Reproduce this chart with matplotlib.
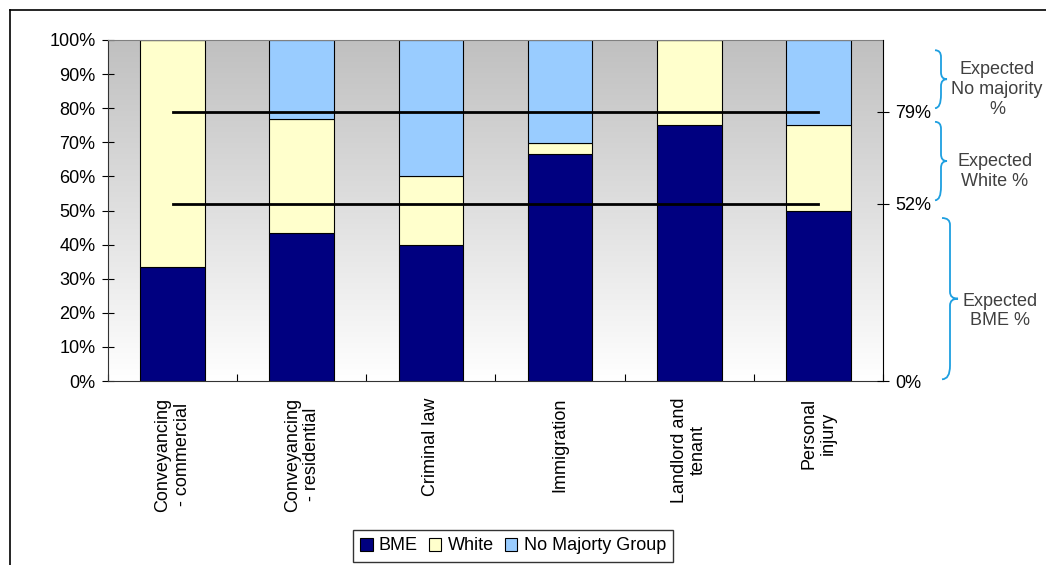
import matplotlib.pyplot as plt
import matplotlib.patches as mpatches
from matplotlib.path import Path
from matplotlib.colors import LinearSegmentedColormap
import matplotlib.transforms as mtrans
import numpy as np

plt.rcParams['font.family'] = ['Liberation Sans', 'DejaVu Sans']

categories = ["Conveyancing\n- commercial", "Conveyancing\n- residential", "Criminal law",
              "Immigration", "Landlord and\ntenant", "Personal\ninjury"]
bme = [33.3, 43.5, 40.0, 66.7, 75.0, 50.0]
white = [66.7, 33.2, 20.0, 3.0, 25.0, 25.0]
no_majority = [0.0, 23.3, 40.0, 30.3, 0.0, 25.0]
expected_lines = [52, 79]
right_ticks = [0, 52, 79]
brace_spans = [(97, 80), (76, 53), (47.8, 0.5)]
brace_labels = ["Expected\nNo majority\n%", "Expected\nWhite %", "Expected\nBME %"]
label_y = [85.5, 61.5, 20.5]

fs = 13

fig = plt.figure(figsize=(10.46, 5.65), dpi=100)
ax = fig.add_axes([108/1046, 1 - 381/565, 775/1046, 341/565])

# grey-to-white gradient background
cm = LinearSegmentedColormap.from_list('bg', ['#FFFFFF', '#C0C0C0'])
grad = np.linspace(1, 0, 256).reshape(-1, 1)
ax.imshow(grad, extent=[-0.5, 5.5, 0, 100], aspect='auto', cmap=cm,
          vmin=0, vmax=1, zorder=0)

x = np.arange(len(categories))
w = 0.5
bme_a = np.array(bme)
white_a = np.array(white)
nm_a = np.array(no_majority)
ax.bar(x, bme_a, w, color='#000080', edgecolor='black', lw=0.8, label='BME', zorder=2)
ax.bar(x, white_a, w, bottom=bme_a, color='#FFFFCC', edgecolor='black', lw=0.8,
       label='White', zorder=2)
ax.bar(x, nm_a, w, bottom=bme_a + white_a, color='#99CCFF', edgecolor='black', lw=0.8,
       label='No Majorty Group', zorder=2)

for v in expected_lines:
    ax.plot([x[0], x[-1]], [v, v], color='black', lw=2, zorder=3)

ax.set_xlim(-0.5, 5.5)
ax.set_ylim(0, 100)
ax.set_yticks(np.arange(0, 101, 10))
ax.set_yticklabels([f"{v}%" for v in range(0, 101, 10)], fontsize=fs)
ax.set_xticks(np.arange(-0.5, 6, 1), minor=False)
ax.set_xticklabels([])
ax.set_xticks(x, minor=True)
ax.set_xticklabels(categories, minor=True, rotation=90, fontsize=fs,
                   va='top', ha='center', multialignment='center', linespacing=1.15)
ax.tick_params(axis='x', which='minor', length=0, pad=12)
ax.tick_params(axis='x', which='major', direction='in', length=5)
ax.tick_params(axis='y', direction='inout', length=8, pad=5)
for s in ['left', 'bottom']:
    ax.spines[s].set_color('#333333')
ax.spines['top'].set_color('#808080')
ax.spines['right'].set_visible(False)

ax2 = ax.twinx()
ax2.set_ylim(0, 100)
ax2.set_yticks(right_ticks)
ax2.set_yticklabels([f"{v}%" for v in right_ticks], fontsize=fs)
ax2.tick_params(axis='y', direction='inout', length=8, pad=5)
for s in ['left', 'top', 'bottom']:
    ax2.spines[s].set_visible(False)
ax2.spines['right'].set_color('black')

# braces on the right
trans = mtrans.blended_transform_factory(fig.transFigure, ax.transData)


def brace(y_top, y_bot, x0, dx):
    xs = x0 / 1046
    d = dx / 1046
    ym = (y_top + y_bot) / 2
    h = 2.0
    verts = [(xs, y_top), (xs + d, y_top), (xs + d, y_top - h), (xs + d, y_top - 2 * h),
             (xs + d, ym + h), (xs + d, ym), (xs + 2 * d, ym),
             (xs + d, ym), (xs + d, ym - h), (xs + d, ym - 2 * h),
             (xs + d, y_bot + 2 * h), (xs + d, y_bot), (xs, y_bot)]
    codes = [Path.MOVETO, Path.CURVE3, Path.CURVE3, Path.LINETO,
             Path.LINETO, Path.CURVE3, Path.CURVE3,
             Path.CURVE3, Path.CURVE3, Path.LINETO,
             Path.LINETO, Path.CURVE3, Path.CURVE3]
    p = mpatches.PathPatch(Path(verts, codes), transform=trans, fill=False,
                           edgecolor='#1E9FE0', lw=1.3, clip_on=False)
    fig.add_artist(p)


brace(*brace_spans[0], 935, 6)
brace(*brace_spans[1], 935, 6)
brace(*brace_spans[2], 942, 8)

label_x = [997, 995, 1000]
for ly, lab, lx in zip(label_y, brace_labels, label_x):
    fig.text(lx / 1046, ly, lab, transform=trans, ha='center', va='center',
             fontsize=fs, color='#404040', linespacing=1.2)

# outer frame (cropped)
fig.add_artist(plt.Line2D([10/1046, 1], [1 - 10/565, 1 - 10/565], color='black', lw=1.2))
fig.add_artist(plt.Line2D([10/1046, 10/1046], [0, 1 - 10/565], color='black', lw=1.2))

leg = fig.legend(loc='center', bbox_to_anchor=(513/1046, 1 - 546/565), ncol=3,
                 fontsize=fs, frameon=True, fancybox=False, edgecolor='black',
                 handlelength=0.7, handleheight=0.7, handletextpad=0.35,
                 columnspacing=0.6, borderpad=0.4, borderaxespad=0.2)
leg.get_frame().set_linewidth(1.0)

fig.savefig('out.png', dpi=100)
